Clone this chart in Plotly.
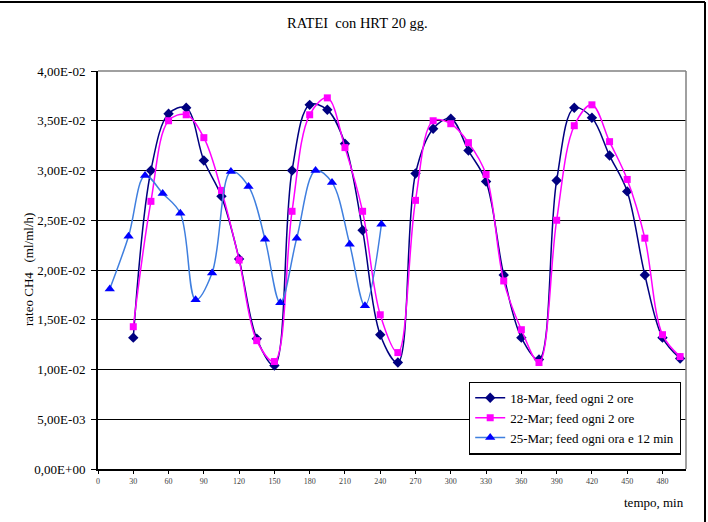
import plotly.graph_objects as go

# ---- data ----
t_18 = [30, 45, 60, 75, 90, 105, 120, 135, 150, 165, 180, 195, 210, 225, 240, 255,
        270, 285, 300, 315, 330, 345, 360, 375, 390, 405, 420, 435, 450, 465, 480, 495]
v_18 = [0.0132, 0.0300, 0.0357, 0.0363, 0.0310, 0.0274, 0.0211, 0.0131, 0.0104, 0.0300,
        0.0366, 0.0361, 0.0327, 0.0240, 0.0135, 0.0107, 0.0297, 0.0342, 0.0352, 0.0320,
        0.0289, 0.0195, 0.0132, 0.0110, 0.0290, 0.0363, 0.0353, 0.0315, 0.0279, 0.0195,
        0.0132, 0.0111]

t_22 = t_18
v_22 = [0.0143, 0.0269, 0.0350, 0.0356, 0.0333, 0.0280, 0.0210, 0.0129, 0.0108, 0.0259,
        0.0356, 0.0373, 0.0323, 0.0259, 0.0155, 0.0117, 0.0270, 0.0350, 0.0347, 0.0328,
        0.0296, 0.0189, 0.0140, 0.0107, 0.0250, 0.0345, 0.0366, 0.0329, 0.0291, 0.0232,
        0.0135, 0.0113]

t_25 = [10, 26, 40, 55, 70, 83, 97, 113, 128, 142, 155, 169, 185, 199, 214, 227, 241]
v_25 = [0.0181, 0.0234, 0.0295, 0.0277, 0.0257, 0.0170, 0.0197, 0.0299, 0.0284, 0.0231,
        0.0167, 0.0232, 0.0300, 0.0288, 0.0226, 0.0164, 0.0246]

names = ["18-Mar, feed ogni 2 ore", "22-Mar; feed ogni 2 ore", "25-Mar; feed ogni ora e 12 min"]

y_tickvals = [0, 0.005, 0.01, 0.015, 0.02, 0.025, 0.03, 0.035, 0.04]
y_ticktext = ["0,00E+00", "5,00E-03", "1,00E-02", "1,50E-02", "2,00E-02",
              "2,50E-02", "3,00E-02", "3,50E-02", "4,00E-02"]
x_tickvals = [0, 30, 60, 90, 120, 150, 180, 210, 240, 270, 300, 330, 360, 390, 420, 450, 480]

title_text = "RATEI \u00a0con HRT 20 gg."
y_title = "rateo CH4 \u00a0 (ml/ml/h)"
x_title = "tempo, min"

SERIF = '"Liberation Serif", "Times New Roman", serif'

fig = go.Figure()
fig.add_trace(go.Scatter(
    x=t_18, y=v_18, name=names[0], mode="lines+markers",
    line=dict(color="#000080", width=1.5, shape="spline", smoothing=1),
    marker=dict(symbol="diamond", size=8, color="#000080")))
fig.add_trace(go.Scatter(
    x=t_22, y=v_22, name=names[1], mode="lines+markers",
    line=dict(color="#ff00ff", width=1.5, shape="spline", smoothing=1),
    marker=dict(symbol="square", size=7, color="#ff00ff")))
fig.add_trace(go.Scatter(
    x=t_25, y=v_25, name=names[2], mode="lines+markers",
    line=dict(color="#3f7fdf", width=1.5, shape="spline", smoothing=1),
    marker=dict(symbol="triangle-up", size=9, color="#0000ff")))

L, R, T, B = 98, 22, 71, 53
fig.update_layout(
    width=708, height=522,
    margin=dict(l=L, r=R, t=T, b=B),
    paper_bgcolor="white", plot_bgcolor="white",
    font=dict(family=SERIF, color="black"),
    showlegend=True,
    legend=dict(
        x=0.9915, y=0.036, xanchor="right", yanchor="bottom",
        bgcolor="white", bordercolor="black", borderwidth=1.2,
        font=dict(family=SERIF, size=13, color="black"),
        itemwidth=30, tracegroupgap=0,
    ),
    xaxis=dict(
        range=[0, 500], tickvals=x_tickvals, ticktext=[str(v) for v in x_tickvals],
        showgrid=False, zeroline=False,
        showline=True, linecolor="black", linewidth=2,
        ticks="outside", ticklen=3, tickcolor="black", tickwidth=1,
        tickfont=dict(family=SERIF, size=8, color="#404040"),
    ),
    yaxis=dict(
        range=[0, 0.04], tickvals=y_tickvals, ticktext=y_ticktext,
        showgrid=True, gridcolor="black", gridwidth=1, zeroline=False,
        showline=True, linecolor="black", linewidth=2,
        ticks="outside", ticklen=5, tickcolor="black", tickwidth=1,
        ticklabelstandoff=3,
        tickfont=dict(family=SERIF, size=13, color="black"),
    ),
    annotations=[
        dict(text=title_text, xref="paper", yref="paper", x=(357 - L) / 588, y=1 + (71 - 23) / 398,
             xanchor="center", yanchor="middle", showarrow=False,
             font=dict(family=SERIF, size=14.5, color="black")),
        dict(text=y_title, xref="paper", yref="paper", x=(28 - L) / 588, y=0.5,
             xanchor="center", yanchor="middle", textangle=-90, showarrow=False,
             font=dict(family=SERIF, size=13, color="black")),
        dict(text=x_title, xref="paper", yref="paper", x=1.0, y=-(502 - 469) / 398,
             xanchor="right", yanchor="middle", showarrow=False,
             font=dict(family=SERIF, size=13, color="black")),
    ],
    shapes=[
        dict(type="line", xref="paper", yref="paper", x0=0, x1=1, y0=1, y1=1,
             line=dict(color="#808080", width=1.5)),
        dict(type="line", xref="paper", yref="paper", x0=1, x1=1, y0=0, y1=1,
             line=dict(color="#808080", width=1.5)),
        dict(type="line", xref="paper", yref="paper", x0=-0.2, x1=1 + (705 - 686) / 588,
             y0=1 + (71 - 2) / 398, y1=1 + (71 - 2) / 398, line=dict(color="black", width=2)),
        dict(type="line", xref="paper", yref="paper", x0=1 + (705 - 686) / 588, x1=1 + (705 - 686) / 588,
             y0=-0.2, y1=1 + (71 - 2) / 398, line=dict(color="black", width=2)),
    ],
)

fig.write_html("out.html")
